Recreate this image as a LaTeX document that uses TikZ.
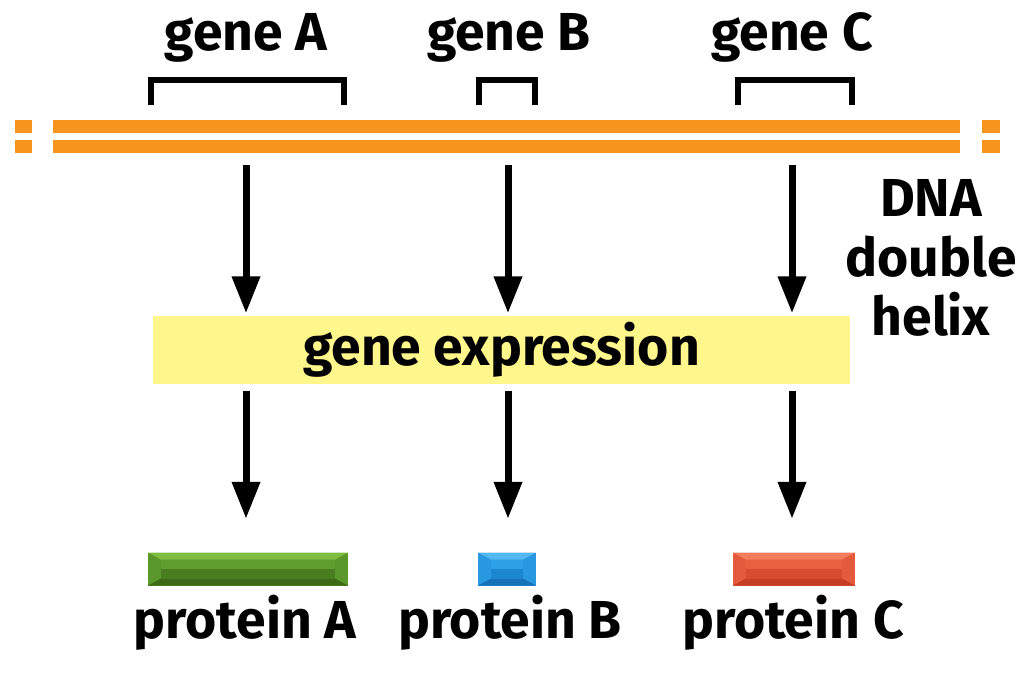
\documentclass[tikz,border=0pt]{standalone}
\usepackage{fontspec}
\setsansfont{Fira Sans}
\usetikzlibrary{arrows.meta, positioning, calc}
\definecolor{dnaorange}{RGB}{247,148,29}
\definecolor{expryellow}{RGB}{255,246,140}
% protein bar shades: top, upper face, lower face, bottom, sides
\definecolor{grnA}{RGB}{125,190,64}
\definecolor{grnB}{RGB}{95,158,46}
\definecolor{grnC}{RGB}{74,125,31}
\definecolor{grnD}{RGB}{62,106,24}
\definecolor{grnE}{RGB}{90,152,44}
\definecolor{bluA}{RGB}{84,184,240}
\definecolor{bluB}{RGB}{46,160,230}
\definecolor{bluC}{RGB}{28,134,207}
\definecolor{bluD}{RGB}{22,114,184}
\definecolor{bluE}{RGB}{40,152,224}
\definecolor{redA}{RGB}{242,124,92}
\definecolor{redB}{RGB}{232,96,63}
\definecolor{redC}{RGB}{216,76,48}
\definecolor{redD}{RGB}{196,62,38}
\definecolor{redE}{RGB}{228,90,60}

\begin{document}
\begin{tikzpicture}[x=0.01cm, y=-0.01cm,
    lbl/.style={font=\sffamily\bfseries\fontsize{15.2}{16.8}\selectfont,
                inner sep=0pt, anchor=base},
    strand/.style={dnaorange, line width=0.13cm},
    bracket/.style={line width=0.06cm, line cap=butt},
    arr/.style={-{Triangle[length=0.37cm, width=0.27cm]}, line width=0.07cm},
    exprbox/.style={rectangle, fill=expryellow, inner sep=0pt,
                    minimum width=6.97cm, minimum height=0.68cm,
                    font=\sffamily\bfseries\fontsize{15.2}{16.8}\selectfont},
    prot/.style n args={5}{rectangle, inner sep=0pt, minimum height=0.33cm, fill=#5,
      path picture={
        \coordinate (pnw) at (path picture bounding box.north west);
        \coordinate (pne) at (path picture bounding box.north east);
        \coordinate (psw) at (path picture bounding box.south west);
        \coordinate (pse) at (path picture bounding box.south east);
        \fill[#1] (pnw) -- (pne) -- ($(pne)+(-13,7)$) -- ($(pnw)+(13,7)$) -- cycle;
        \fill[#4] (psw) -- (pse) -- ($(pse)+(-13,-7)$) -- ($(psw)+(13,-7)$) -- cycle;
        \fill[#2] ($(pnw)+(13,7)$) rectangle ($(path picture bounding box.east)+(-13,0)$);
        \fill[#3] ($(path picture bounding box.west)+(13,0)$) rectangle ($(pse)+(-13,-7)$);
      }}
]
\useasboundingbox (0,0) rectangle (1024,678);

% DNA
\draw[strand] (53,126.5) -- (960,126.5);
\draw[strand] (53,146.5) -- (960,146.5);
\draw[strand] (15,126.5) -- (32,126.5);
\draw[strand] (15,146.5) -- (32,146.5);
\draw[strand] (982,126.5) -- (1000,126.5);
\draw[strand] (982,146.5) -- (1000,146.5);
\node[lbl, anchor=center, align=center] (dna) at (931,258) {DNA\\double\\helix};

% genes
\node[lbl] (gA) at (246,50) {gene A};
\node[lbl] (gB) at (509,50) {gene B};
\node[lbl] (gC) at (792,50) {gene C};
\draw[bracket] (151,105) |- (344,80) -- (344,105);
\draw[bracket] (479,105) |- (535,80) -- (535,105);
\draw[bracket] (738,105) |- (852,80) -- (852,105);

% expression
\node[exprbox] (expr) at (501.5,350) {gene expression};

% proteins
\node[prot={grnA}{grnB}{grnC}{grnD}{grnE}, minimum width=2cm]    (pA) at (248,569) {};
\node[prot={bluA}{bluB}{bluC}{bluD}{bluE}, minimum width=0.58cm] (pB) at (507,569) {};
\node[prot={redA}{redB}{redC}{redD}{redE}, minimum width=1.22cm] (pC) at (794,569) {};
\node[lbl] (lA) at (245,638) {protein A};
\node[lbl] (lB) at (510,638) {protein B};
\node[lbl] (lC) at (793,638) {protein C};

% arrows
\coordinate (tA) at (246,165);
\coordinate (tB) at (508,165);
\coordinate (tC) at (792,165);
\foreach \t/\p in {tA/pA, tB/pB, tC/pC} {
  \draw[arr, shorten >=0.02cm] (\t) -- (\t |- expr.north);
  \draw[arr, shorten <=0.06cm, shorten >=0.33cm] (expr.south -| \t) -- (\t |- \p.north);
}
\end{tikzpicture}
\end{document}
